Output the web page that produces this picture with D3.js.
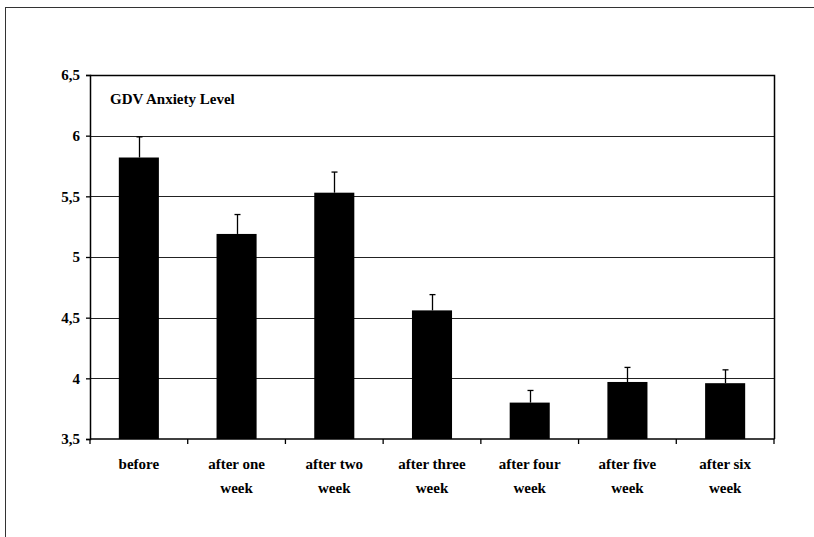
<!DOCTYPE html>
<html><head><meta charset="utf-8">
<script src="https://cdn.jsdelivr.net/npm/d3@7"></script>
<style>body{margin:0;background:#fff}svg{display:block}</style>
</head><body>
<script>
const categories = [["before"],["after one","week"],["after two","week"],["after three","week"],["after four","week"],["after five","week"],["after six","week"]];
const means = [5.82, 5.19, 5.53, 4.56, 3.80, 3.97, 3.96];
const errors = [0.17, 0.16, 0.17, 0.13, 0.10, 0.12, 0.11];
const yTicks = [3.5, 4, 4.5, 5, 5.5, 6, 6.5];
const yTickLabels = ["3,5", "4", "4,5", "5", "5,5", "6", "6,5"];
const title = "GDV Anxiety Level";

const FONT = "'Liberation Serif', 'Times New Roman', serif";
const W = 814, H = 537;
const m = {left: 90, right: 774, top: 75, bottom: 439};
const svg = d3.select("body").append("svg").attr("width", W).attr("height", H)
  .attr("font-family", FONT).attr("font-weight", "bold");

// outer frame
svg.append("rect").attr("x", 5.5).attr("y", 7.5).attr("width", 830).attr("height", 560)
  .attr("fill", "none").attr("stroke", "#333").attr("stroke-width", 1);

const x = d3.scaleBand().domain(d3.range(categories.length)).range([m.left, m.right]).paddingInner(0.59).paddingOuter(0.295);
const y = d3.scaleLinear().domain([3.5, 6.5]).range([m.bottom, m.top]);

// gridlines
svg.append("g").selectAll("line").data(yTicks.slice(1, -1)).join("line")
  .attr("x1", m.left).attr("x2", m.right).attr("y1", d => Math.round(y(d)) + 0.5).attr("y2", d => Math.round(y(d)) + 0.5)
  .attr("stroke", "#222").attr("stroke-width", 1.2);

// plot border top/right
svg.append("path").attr("d", `M${m.left},${m.top + 0.5}H${m.right + 0.5}V${m.bottom}`)
  .attr("fill", "none").attr("stroke", "#000").attr("stroke-width", 1.5);

// bars
svg.append("g").selectAll("rect").data(means).join("rect")
  .attr("x", (d, i) => x(i)).attr("width", x.bandwidth())
  .attr("y", d => y(d)).attr("height", d => y(3.5) - y(d)).attr("fill", "#000");

// error bars
const eg = svg.append("g").attr("stroke", "#000").attr("stroke-width", 1.3);
means.forEach((d, i) => {
  const cx = Math.round(x(i) + x.bandwidth() / 2) + 0.5;
  eg.append("line").attr("x1", cx).attr("x2", cx).attr("y1", y(d)).attr("y2", y(d + errors[i]));
  eg.append("line").attr("x1", cx - 3).attr("x2", cx + 3).attr("y1", y(d + errors[i])).attr("y2", y(d + errors[i]));
});

// y axis
const yAxis = d3.axisLeft(y).tickValues(yTicks).tickFormat((d, i) => yTickLabels[i]).tickSize(4).tickPadding(6);
const yg = svg.append("g").attr("transform", `translate(${m.left},0)`).call(yAxis)
  .attr("font-family", FONT).attr("font-size", 15).attr("font-weight", "bold");
yg.select(".domain").attr("stroke", "#000").attr("stroke-width", 1.5);
yg.selectAll(".tick line").attr("stroke", "#000").attr("stroke-width", 1.3);
yg.selectAll("text").attr("fill", "#000");

// x axis
const xb = d3.scaleLinear().domain([0, categories.length]).range([m.left, m.right]);
const xg = svg.append("g").attr("transform", `translate(0,${m.bottom})`);
xg.append("line").attr("x1", m.left).attr("x2", m.right + 0.5).attr("stroke", "#000").attr("stroke-width", 1.5);
xg.selectAll("line.t").data(d3.range(categories.length + 1)).join("line").attr("class", "t")
  .attr("x1", d => xb(d)).attr("x2", d => xb(d)).attr("y1", 0).attr("y2", 5).attr("stroke", "#000").attr("stroke-width", 1.3);
categories.forEach((c, i) => {
  const t = xg.append("text").attr("text-anchor", "middle").attr("x", x(i) + x.bandwidth() / 2).attr("y", 30)
    .attr("font-size", 15).attr("fill", "#000");
  c.forEach((line, j) => t.append("tspan").attr("x", x(i) + x.bandwidth() / 2).attr("dy", j === 0 ? 0 : 24).text(line));
});

// title
svg.append("text").attr("x", 110).attr("y", 104).attr("font-size", 15).attr("fill", "#000").text(title);
</script>
</body></html>
